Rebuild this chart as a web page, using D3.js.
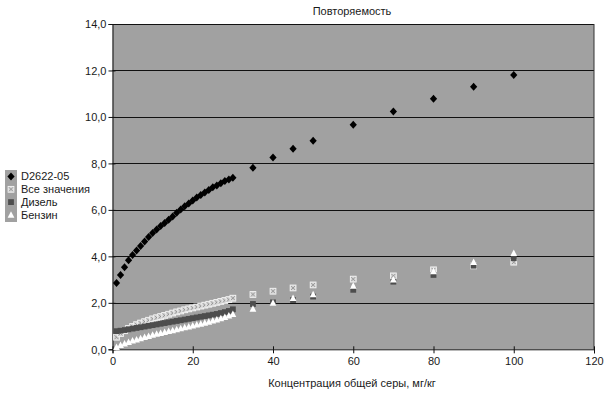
<!DOCTYPE html>
<html>
<head>
<meta charset="utf-8">
<script src="https://d3js.org/d3.v7.min.js"></script>
<style>
	body { margin: 0; background: #fff; }
	svg { display: block; font-family: "Liberation Sans", Arial, sans-serif; }
	.lbl { font-size: 11px; fill: #1a1a1a; }
</style>
</head>
<body>
<svg id="chart" width="612" height="397"></svg>
<script>
// concentration, mg/kg
var xDense = [1,2,3,4,5,6,7,8,9,10,11,12,13,14,15,16,17,18,19,20,21,22,23,24,25,26,27,28,29,30];
var xSparse = [35,40,45,50,60,70,80,90,100];
var xs = xDense.concat(xSparse);

// repeatability values
var d2622 = [2.85,3.2,3.53,3.83,4.06,4.25,4.45,4.64,4.83,5.0,5.16,5.31,5.44,5.58,5.72,5.88,6.02,6.16,6.28,6.4,6.53,6.64,6.75,6.86,6.97,7.05,7.15,7.24,7.31,7.38,
	7.81,8.25,8.63,8.98,9.66,10.23,10.78,11.3,11.8];
var allValues = [0.52,0.68,0.8,0.9,0.98,1.06,1.13,1.19,1.25,1.31,1.36,1.41,1.46,1.51,1.56,1.61,1.65,1.7,1.74,1.78,1.82,1.86,1.9,1.94,1.98,2.02,2.06,2.1,2.14,2.2,
	2.36,2.5,2.64,2.77,3.02,3.16,3.42,3.59,3.75];
var diesel = [0.78,0.8,0.83,0.86,0.89,0.92,0.95,0.98,1.01,1.04,1.07,1.1,1.13,1.16,1.19,1.22,1.25,1.28,1.31,1.34,1.37,1.4,1.43,1.46,1.49,1.52,1.56,1.6,1.65,1.72,
	1.95,2.02,2.12,2.27,2.56,2.91,3.2,3.6,3.92];
var gasoline = [0.1,0.18,0.25,0.31,0.37,0.42,0.47,0.52,0.57,0.62,0.66,0.7,0.74,0.78,0.82,0.86,0.9,0.94,0.98,1.02,1.06,1.1,1.14,1.18,1.23,1.28,1.33,1.39,1.45,1.52,
	1.74,2.0,2.2,2.37,2.73,3.0,3.35,3.75,4.14];

var seriesNames = ["D2622-05", "Все значения", "Дизель", "Бензин"];
var xTicks = [0,20,40,60,80,100,120];
var yTicks = [0,2,4,6,8,10,12,14];

var svg = d3.select("#chart");
var plotL = 112.5, plotR = 594, plotT = 24, plotB = 349.3;

var x = d3.scaleLinear().domain([0, 120]).range([plotL, plotR]);
var y = d3.scaleLinear().domain([0, 14]).range([plotB, plotT]);

// plot area
svg.append("rect")
	.attr("x", plotL).attr("y", plotT)
	.attr("width", plotR - plotL).attr("height", plotB - plotT)
	.attr("fill", "#a1a1a1");

// gridlines
svg.selectAll(".grid").data(yTicks.slice(1)).enter().append("line")
	.attr("x1", plotL).attr("x2", plotR)
	.attr("y1", function(d) { return Math.round(y(d)) + 0.5; })
	.attr("y2", function(d) { return Math.round(y(d)) + 0.5; })
	.attr("stroke", "#111").attr("stroke-width", 1);

// right border
svg.append("line")
	.attr("x1", plotR).attr("x2", plotR).attr("y1", plotT).attr("y2", plotB)
	.attr("stroke", "#333");

// axes
var yAxis = d3.axisLeft(y).tickValues(yTicks).tickSize(4).tickFormat(function(d) { return d3.format(".1f")(d).replace(".", ","); });
var gy = svg.append("g").attr("transform", "translate(" + plotL + ",0)").call(yAxis);
gy.select(".domain").attr("stroke", "#111");
gy.selectAll(".tick line").attr("stroke", "#111").attr("x2", -4).attr("x1", 3);
gy.selectAll(".tick text").attr("x", -6).attr("dy", "0.35em")
	.style("font-size", "11px").style("font-family", "Liberation Sans, Arial, sans-serif").attr("fill", "#1a1a1a");

var xAxis = d3.axisBottom(x).tickValues(xTicks).tickSize(4);
var gx = svg.append("g").attr("transform", "translate(0," + plotB + ")").call(xAxis);
gx.select(".domain").attr("stroke", "#111");
gx.selectAll(".tick line").attr("stroke", "#111").attr("y1", -3).attr("y2", 4);
gx.selectAll(".tick text").attr("y", 8)
	.style("font-size", "11px").style("font-family", "Liberation Sans, Arial, sans-serif").attr("fill", "#1a1a1a");

// titles
svg.append("text").attr("class", "lbl").attr("x", 352).attr("y", 15).attr("text-anchor", "middle").text("Повторяемость");
svg.append("text").attr("class", "lbl").attr("x", 352).attr("y", 387).attr("text-anchor", "middle").text("Концентрация общей серы, мг/кг");

// markers
function diamond(g) {
	g.append("path").attr("d", "M0,-4L3.6,0L0,4L-3.6,0Z").attr("fill", "#000");
}
function crossSquare(g) {
	g.append("rect").attr("x", -2.9).attr("y", -2.9).attr("width", 5.8).attr("height", 5.8)
		.attr("fill", "#d4d4d4").attr("stroke", "#f4f4f4").attr("stroke-width", 0.9);
	g.append("path").attr("d", "M-2,-2L2,2M-2,2L2,-2").attr("stroke", "#8a8a8a").attr("stroke-width", 0.8);
}
function darkSquare(g) {
	g.append("rect").attr("x", -2.9).attr("y", -2.9).attr("width", 5.8).attr("height", 5.8).attr("fill", "#4d4d4d");
}
function triangle(g) {
	g.append("path").attr("d", "M0,-3.6L3.4,2.9L-3.4,2.9Z").attr("fill", "#fff");
}
var drawers = [diamond, crossSquare, darkSquare, triangle];
var seriesData = [d2622, allValues, diesel, gasoline];

// draw order: all values, diesel, gasoline, D2622
[1, 2, 3, 0].forEach(function(si) {
	var pts = svg.append("g").selectAll("g").data(seriesData[si]).enter().append("g")
		.attr("transform", function(d, i) { return "translate(" + x(xs[i]) + "," + y(d) + ")"; });
	pts.each(function() { drawers[si](d3.select(this)); });
});

// legend
svg.append("rect").attr("x", 5).attr("y", 170).attr("width", 12).attr("height", 52).attr("fill", "#a1a1a1");
var leg = svg.selectAll(".leg").data(seriesNames).enter().append("g")
	.attr("transform", function(d, i) { return "translate(11," + (176.5 + i * 12.8) + ")"; });
leg.each(function(d, i) { drawers[i](d3.select(this)); });
leg.append("text").attr("class", "lbl").attr("x", 10).attr("dy", "0.36em").text(function(d) { return d; });
</script>
</body>
</html>
